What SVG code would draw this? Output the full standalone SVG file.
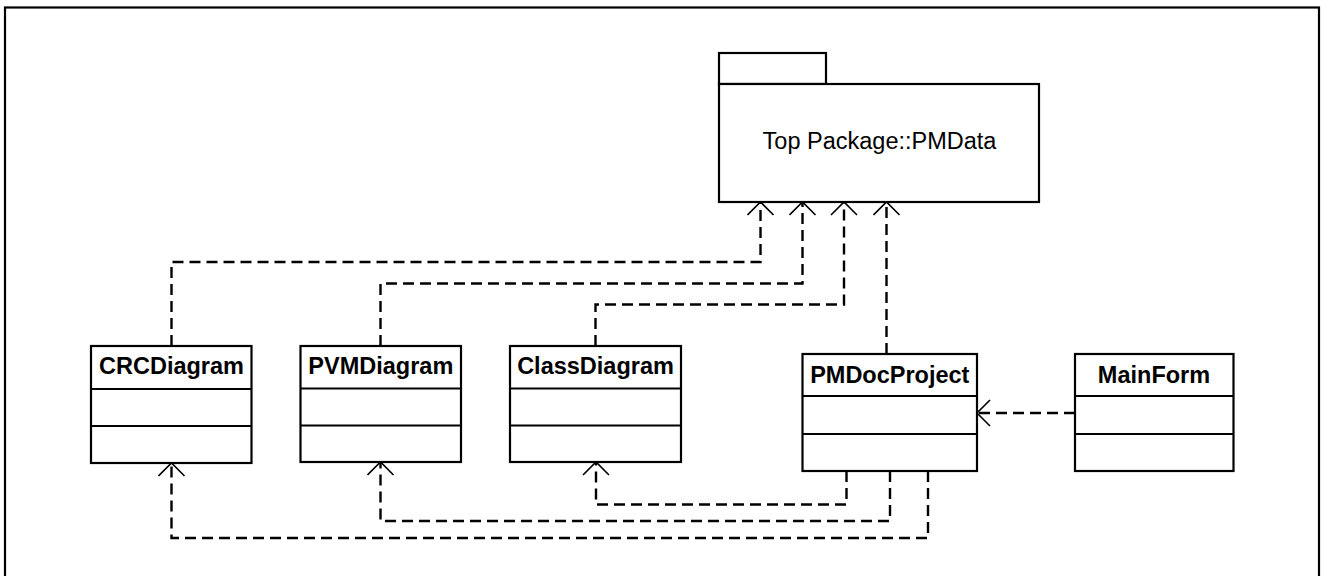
<svg xmlns="http://www.w3.org/2000/svg" width="1321" height="576" viewBox="0 0 1321 576">
  <style>
    .frame { fill: none; stroke: #000; stroke-width: 2.2; }
    .box { fill: #fff; stroke: #000; stroke-width: 2.2; }
    .sep { stroke: #000; stroke-width: 2.2; }
    .name { font-family: "Liberation Sans", Arial, sans-serif; font-size: 23.5px; font-weight: bold; text-anchor: middle; fill: #000; }
    .pkg { font-family: "Liberation Sans", Arial, sans-serif; font-size: 23.5px; text-anchor: middle; fill: #000; }
    .dep { fill: none; stroke: #000; stroke-width: 2.4; stroke-dasharray: 11 6; marker-end: url(#open); }
  </style>
  <defs>
    <!-- open V arrowhead for dependency arrows -->
    <marker id="open" markerUnits="userSpaceOnUse" viewBox="0 0 16 28" markerWidth="16" markerHeight="28" refX="14" refY="14" orient="auto">
      <path d="M1,1 L14,14 L1,27" fill="none" stroke="#000" stroke-width="1.6" stroke-dasharray="none"/>
    </marker>
  </defs>
  <rect width="1321" height="576" fill="#fff"/>
  <!-- diagram frame -->
  <rect class="frame" x="5" y="7.5" width="1314" height="600"/>

  <g id="connectors">
    <path class="dep" d="M171.5,346 V262 H760.5 V202"/>
    <path class="dep" d="M380.5,346 V283.5 H802.5 V202"/>
    <path class="dep" d="M595.5,346 V304.5 H844 V202"/>
    <path class="dep" d="M886.5,354 V202"/>
    <path class="dep" d="M1075,413 H977"/>
    <path class="dep" d="M846.5,471 V504.5 H596 V462"/>
    <path class="dep" d="M890,471 V521 H380.5 V462"/>
    <path class="dep" d="M928,471 V538 H171.5 V463"/>
  </g>

  <g id="pmdata">
    <rect class="box" x="719" y="53" width="107" height="31"/>
    <rect class="box" x="719" y="84" width="320" height="118"/>
    <text class="pkg" x="879.5" y="149">Top Package::PMData</text>
  </g>

  <g id="crcdiagram">
    <rect class="box" x="91" y="346" width="160.5" height="117"/>
    <line class="sep" x1="91" y1="389" x2="251.5" y2="389"/>
    <line class="sep" x1="91" y1="426" x2="251.5" y2="426"/>
    <text class="name" x="171.5" y="374">CRCDiagram</text>
  </g>

  <g id="pvmdiagram">
    <rect class="box" x="300.5" y="346" width="160.5" height="116"/>
    <line class="sep" x1="300.5" y1="388.5" x2="461" y2="388.5"/>
    <line class="sep" x1="300.5" y1="425.5" x2="461" y2="425.5"/>
    <text class="name" x="380.8" y="374">PVMDiagram</text>
  </g>

  <g id="classdiagram">
    <rect class="box" x="510" y="346" width="171" height="116"/>
    <line class="sep" x1="510" y1="388.5" x2="681" y2="388.5"/>
    <line class="sep" x1="510" y1="425.5" x2="681" y2="425.5"/>
    <text class="name" x="595.5" y="374">ClassDiagram</text>
  </g>

  <g id="pmdocproject">
    <rect class="box" x="802.5" y="354" width="174.5" height="117"/>
    <line class="sep" x1="802.5" y1="396" x2="977" y2="396"/>
    <line class="sep" x1="802.5" y1="434" x2="977" y2="434"/>
    <text class="name" x="889.8" y="382.5">PMDocProject</text>
  </g>

  <g id="mainform">
    <rect class="box" x="1075" y="354" width="158.5" height="117"/>
    <line class="sep" x1="1075" y1="396" x2="1233.5" y2="396"/>
    <line class="sep" x1="1075" y1="434" x2="1233.5" y2="434"/>
    <text class="name" x="1154" y="382.5">MainForm</text>
  </g>
</svg>
